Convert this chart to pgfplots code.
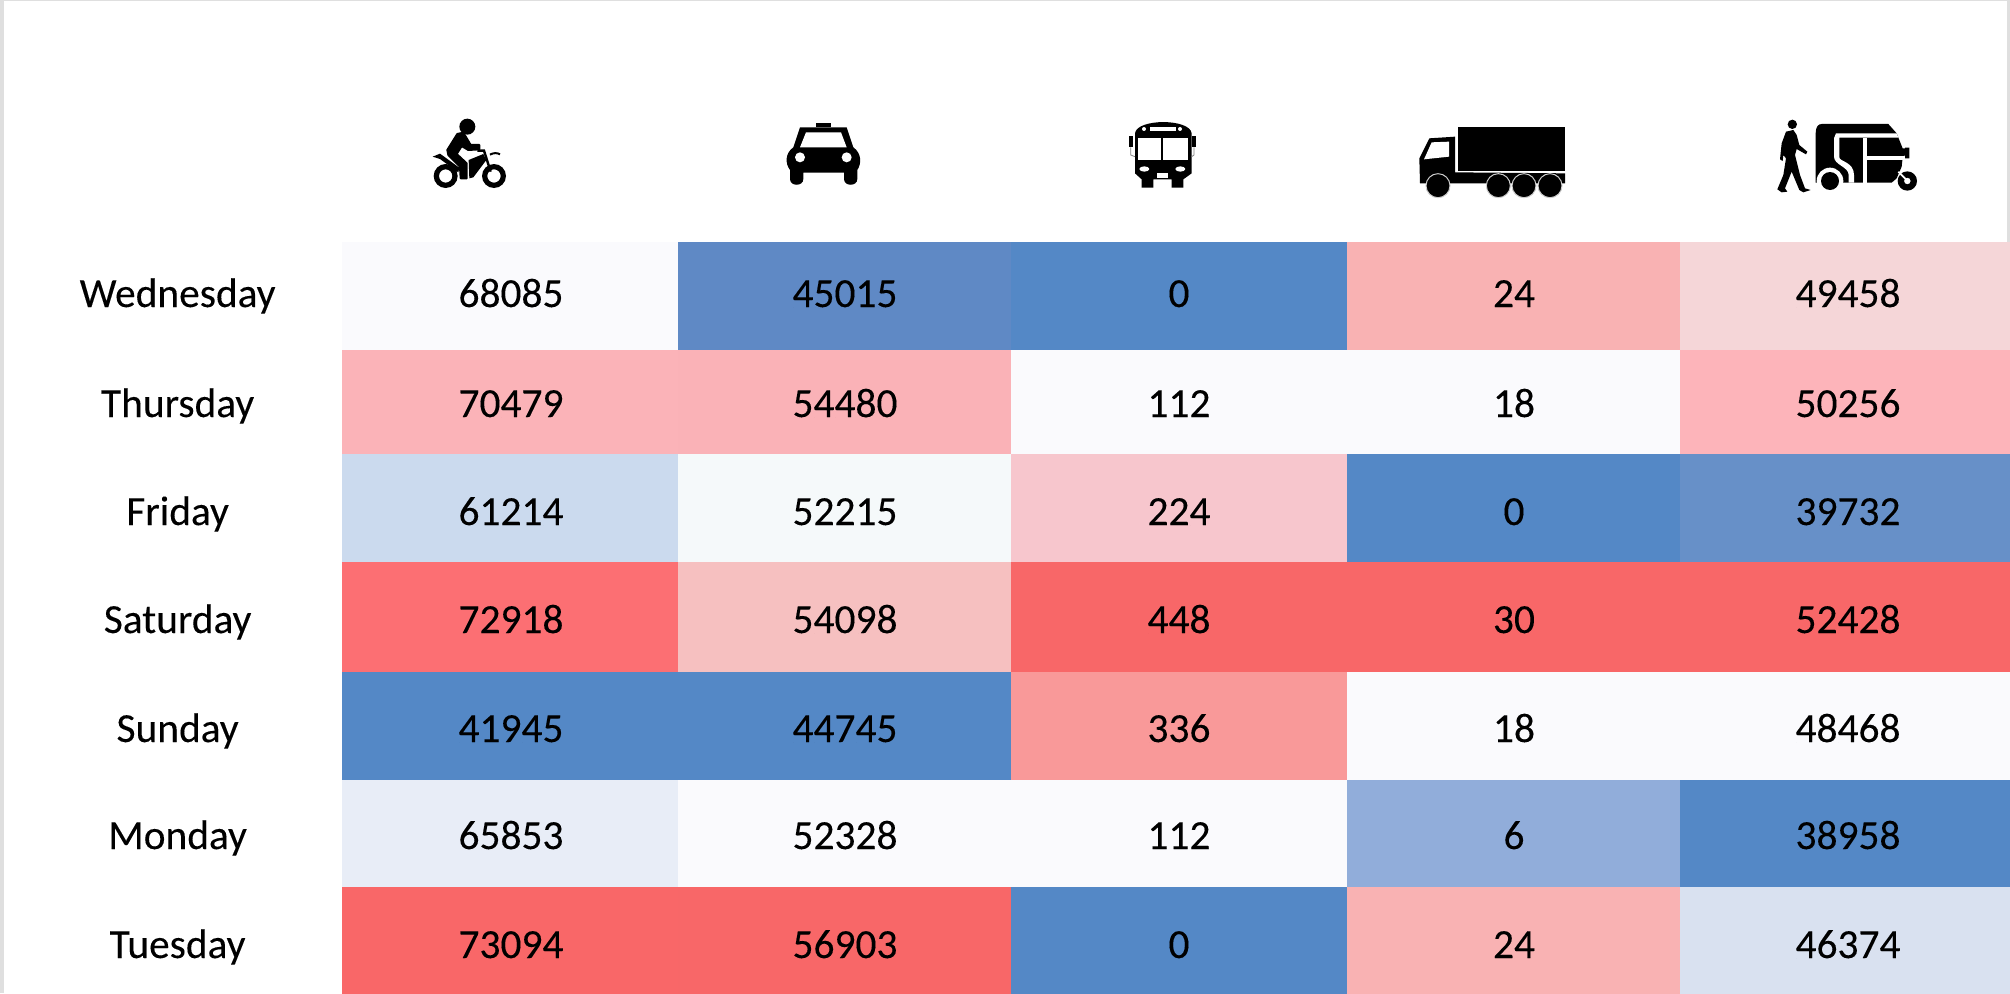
\documentclass[border=0pt]{standalone}
\usepackage{fontspec}
\setmainfont{Carlito}
\newfontfamily\cellfont{Carlito}[FakeBold=0.15]
\usepackage{pgfplots}
\usepackage{pgfplotstable}
\pgfplotsset{compat=1.18}

% cell corners in pixels of the reference, each cell takes the colour of its top left corner
\pgfplotstableread{
x y col
342 242 rgb255=250,250,253
678 242 rgb255=95,137,197
1011 242 rgb255=84,136,198
1347 242 rgb255=249,178,179
1680 242 rgb255=245,214,216
2010 242 rgb255=255,255,255
342 350 rgb255=251,179,184
678 350 rgb255=250,178,183
1011 350 rgb255=250,250,253
1347 350 rgb255=250,250,253
1680 350 rgb255=253,180,186
2010 350 rgb255=255,255,255
342 454 rgb255=203,218,238
678 454 rgb255=245,249,250
1011 454 rgb255=247,198,205
1347 454 rgb255=84,136,198
1680 454 rgb255=103,144,200
2010 454 rgb255=255,255,255
342 562 rgb255=252,111,115
678 562 rgb255=246,192,192
1011 562 rgb255=248,103,104
1347 562 rgb255=248,103,104
1680 562 rgb255=248,103,104
2010 562 rgb255=255,255,255
342 672 rgb255=84,136,198
678 672 rgb255=84,136,198
1011 672 rgb255=249,153,153
1347 672 rgb255=250,250,253
1680 672 rgb255=250,250,253
2010 672 rgb255=255,255,255
342 780 rgb255=232,237,247
678 780 rgb255=250,250,253
1011 780 rgb255=250,250,253
1347 780 rgb255=145,173,218
1680 780 rgb255=84,136,198
2010 780 rgb255=255,255,255
342 887 rgb255=249,103,104
678 887 rgb255=248,103,104
1011 887 rgb255=84,136,198
1347 887 rgb255=249,178,179
1680 887 rgb255=217,225,240
2010 887 rgb255=255,255,255
342 993 rgb255=255,255,255
678 993 rgb255=255,255,255
1011 993 rgb255=255,255,255
1347 993 rgb255=255,255,255
1680 993 rgb255=255,255,255
2010 993 rgb255=255,255,255
}\corners

% values, y is the text baseline
\pgfplotstableread{
x y val
511 307 68085
845 307 45015
1179 307 0
1514 307 24
1848 307 49458
511 417 70479
845 417 54480
1179 417 112
1514 417 18
1848 417 50256
511 525 61214
845 525 52215
1179 525 224
1514 525 0
1848 525 39732
511 633 72918
845 633 54098
1179 633 448
1514 633 30
1848 633 52428
511 742 41945
845 742 44745
1179 742 336
1514 742 18
1848 742 48468
511 849 65853
845 849 52328
1179 849 112
1514 849 6
1848 849 38958
511 958 73094
845 958 56903
1179 958 0
1514 958 24
1848 958 46374
}\vals

\begin{document}
\begin{tikzpicture}
\begin{axis}[
  x=0.5pt,y=0.5pt,
  scale only axis,
  y dir=reverse,
  xmin=342,xmax=2010,ymin=0,ymax=993,
  clip=false,
  axis line style={draw=none},
  major tick length=0pt,
  xtick=\empty,
  ytick={307,417,525,633,742,849,958},
  yticklabels={Wednesday,Thursday,Friday,Saturday,Sunday,Monday,Tuesday},
  yticklabel style={font=\cellfont\fontsize{20.7pt}{24pt}\selectfont,anchor=base,xshift=-82.2pt},
]
\addplot[surf,shader=flat corner,mesh/cols=6,mesh/rows=8,mesh/ordering=x varies,
  mesh/color input=explicit]
  table[x=x,y=y,meta=col]{\corners};
\addplot[draw=none,mark=none,point meta=explicit symbolic,
  nodes near coords,
  every node near coord/.append style={font=\cellfont\fontsize{20.7pt}{24pt}\selectfont,anchor=base,black}]
  table[x=x,y=y,meta=val]{\vals};
\coordinate (TL) at (axis cs:0,0);
\coordinate (BR) at (axis cs:2010,993);
\end{axis}
\pgfresetboundingbox
\path[use as bounding box] (TL) rectangle (BR);
\begin{scope}[shift={(TL)},x=0.5pt,y=-0.5pt]
  % screenshot edge
  \fill[gray!25] (0,0) rectangle (4,993);
  \fill[gray!25] (0,0) rectangle (2010,1.5);
  \fill[gray!25] (2007,0) rectangle (2010,242);
  % motorbike
  \begin{scope}[shift={(420,110)},x=0.16667pt,y=-0.16667pt]
    \fill[even odd rule] (77,198) circle[radius=36] (77,198) circle[radius=20];
    \fill[even odd rule] (222,198) circle[radius=36] (222,198) circle[radius=20];
    \fill (142,50) circle[radius=24];
    \filldraw[line width=1pt,line join=round] (112,72)--(130,68)--(152,105)--(178,105)--(178,118)--(145,120)--(125,108)--(110,132)--(140,160)--(140,205)--(122,205)--(120,170)--(85,135)--(82,120)--cycle;
    \fill (146,150)--(190,132)--(199,150)--(160,202)--(148,205)--cycle;
    \draw[line width=1.2pt] (172,122)--(192,122)--(212,185);
    \draw[line width=1pt] (210,134) .. controls (220,128) and (232,128) .. (240,133);
    \fill (38,140)--(60,131)--(118,173)--(115,187)--(60,147)--cycle;
  \end{scope}
  % car
  \begin{scope}[shift={(770,110)},x=0.16667pt,y=-0.16667pt]
    \fill (138,40) rectangle (182,52);
    \fill (90,52)--(230,52)--(250,112) .. controls (275,130) and (275,160) .. (262,180)--(262,207) .. controls (262,230) and (222,230) .. (222,207)--(222,188)--(100,188)--(100,207) .. controls (100,230) and (60,230) .. (60,207)--(60,180) .. controls (45,160) and (45,130) .. (70,112)--cycle;
    \fill[white] (108,67)--(213,67)--(230,112)--(90,112)--cycle;
    \fill[white] (90,142) circle[radius=15];
    \fill[white] (230,142) circle[radius=15];
  \end{scope}
  % bus
  \begin{scope}[shift={(1110,110)},x=0.16667pt,y=-0.16667pt]
    \fill (75,70) .. controls (80,25) and (240,25) .. (245,70)--(245,190)--(220,208)--(220,233)--(185,233)--(185,208)--(130,208)--(130,233)--(95,233)--(95,208)--(75,190)--cycle;
    \fill[white] (84,84) rectangle (154,151);
    \fill[white] (160,84) rectangle (234,151);
    \fill[white] (120,52) rectangle (197,63);
    \fill[white] (102,57) circle[radius=6];
    \fill[white] (210,57) circle[radius=6];
    \fill[white] (103,177) ellipse[x radius=15,y radius=8];
    \fill[white] (211,177) ellipse[x radius=15,y radius=8];
    \fill[white] (140,190) rectangle (175,204);
    \fill (57,77) rectangle (70,112);
    \fill (245,77) rectangle (257,112);
    \draw[gray,line width=0.4pt] (62,112)--(62,135)--(75,140);
    \draw[gray,line width=0.4pt] (252,112)--(252,135)--(245,140);
  \end{scope}
  % truck
  \begin{scope}[shift={(1410,115)},x=0.16667pt,y=-0.16667pt]
    \fill (145,37) rectangle (465,167);
    \fill (58,70)--(135,65)--(135,172)--(465,175)--(465,205)--(30,205)--(28,130)--cycle;
    \fill[white] (65,82)--(117,80)--(117,125)--(42,133)--cycle;
    \foreach \wx in {84,265,342,420}
      \filldraw[draw=white!80!black,line width=0.5pt] (\wx,212) circle[radius=36];
  \end{scope}
  % walker and rickshaw
  \begin{scope}[shift={(1750,100)},x=0.16667pt,y=-0.16667pt]
    \fill (127,73) circle[radius=14];
    \fill (108,95)--(130,90)--(140,105)--(148,135)--(172,155)--(168,163)--(140,147)--(135,165)--(150,225)--(165,265)--(182,270)--(160,277)--(148,270)--(125,215)--(105,265)--(112,275)--(95,277)--(82,268)--(100,225)--(108,175)--(100,165)--(98,183)--(90,178)--(95,130)--cycle;
    \fill (197,100) .. controls (197,80) and (205,72) .. (215,72)--(415,72)--(440,100)--(458,145)--(465,145)--(465,143)--(478,143)--(478,175)--(465,175)--(465,165)--(458,172)--(455,200)--(440,235)--(425,248)--(197,248)--cycle;
    \fill[white] (258,100)--(440,100)--(445,113)--(268,113)--(268,172) .. controls (268,185) and (312,185) .. (312,225)--(312,248)--(296,248)--(296,225) .. controls (296,200) and (252,195) .. (252,170)--(252,115)--cycle;
    \fill[white] (340,113) rectangle (352,248);
    \fill[white] (352,168) rectangle (462,180);
    \fill[white] (240,243) circle[radius=40];
    \fill (240,243) circle[radius=27];
    \fill[even odd rule] (472,243) circle[radius=29] (472,243) circle[radius=10];
    \draw[white,line width=0.9pt] (445,215)--(470,240);
  \end{scope}
\end{scope}
\end{tikzpicture}
\end{document}
